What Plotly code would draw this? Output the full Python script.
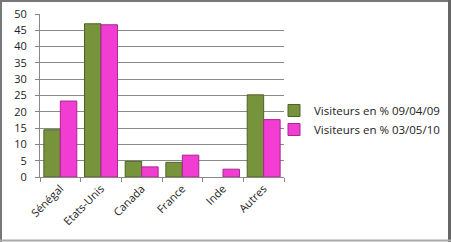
import plotly.graph_objects as go

categories = ["Sénégal", "Etats-Unis", "Canada", "France", "Inde", "Autres"]
visiteurs_2009 = [14.5, 47.0, 4.8, 4.5, None, 25.2]
visiteurs_2010 = [23.3, 46.7, 3.1, 6.7, 2.4, 17.6]
series_names = ["Visiteurs en % 09/04/09", "Visiteurs en % 03/05/10"]
y_ticks = [0, 5, 10, 15, 20, 25, 30, 35, 40, 45, 50]

W, H = 451, 242
ml, mr, mt, mb = 40, 167, 14, 65

fig = go.Figure()
fig.add_trace(go.Bar(x=categories, y=visiteurs_2009, name=series_names[0],
                     marker=dict(color="#77933C", line=dict(color="#4F6228", width=1))))
fig.add_trace(go.Bar(x=categories, y=visiteurs_2010, name=series_names[1],
                     marker=dict(color="#F23DD2", line=dict(color="#A8288F", width=1))))

pw = W - ml - mr
ph = H - mt - mb

def px_x(p):
    return (p - ml) / pw

def px_y(p):
    return (H - mb - p) / ph

fig.update_layout(
    width=W, height=H,
    margin=dict(l=ml, r=mr, t=mt, b=mb, autoexpand=False),
    paper_bgcolor="white", plot_bgcolor="white",
    barmode="group", bargap=0.19, bargroupgap=0,
    font=dict(family="Open Sans", size=11, color="#222"),
    showlegend=True,
    legend=dict(x=px_x(274), y=px_y(120), xanchor="left", yanchor="middle",
                font=dict(size=11.5, color="#222"), tracegroupgap=2,
                bgcolor="rgba(0,0,0,0)"),
    xaxis=dict(showgrid=False, showline=True, linecolor="#888", linewidth=1,
               ticks="outside", tickson="boundaries", ticklen=4, tickcolor="#888",
               tickangle=-45, tickfont=dict(size=11)),
    yaxis=dict(range=[0, 50], tickvals=y_ticks, showgrid=True, gridcolor="#8a8a8a",
               gridwidth=1, showline=True, linecolor="#888", ticks="outside",
               ticklen=4, tickcolor="#888", zeroline=False, tickfont=dict(size=11),
               ticklabelstandoff=6),
    shapes=[
        dict(type="line", xref="paper", yref="paper", x0=px_x(1), x1=px_x(1), y0=px_y(0), y1=px_y(H),
             line=dict(color="#777", width=2)),
        dict(type="line", xref="paper", yref="paper", x0=px_x(0), x1=px_x(W), y0=px_y(1), y1=px_y(1),
             line=dict(color="#777", width=2)),
        dict(type="line", xref="paper", yref="paper", x0=px_x(449.5), x1=px_x(449.5), y0=px_y(0), y1=px_y(H),
             line=dict(color="#666", width=3)),
        dict(type="line", xref="paper", yref="paper", x0=px_x(0), x1=px_x(W), y0=px_y(240.5), y1=px_y(240.5),
             line=dict(color="#aaa", width=2)),
    ],
)

fig.write_html("out.html")
